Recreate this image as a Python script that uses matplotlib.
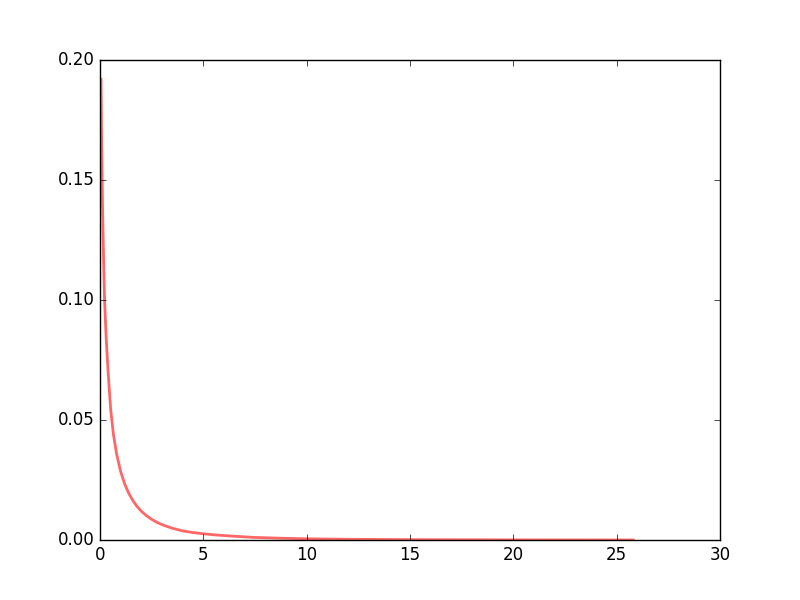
import matplotlib
matplotlib.use("Agg")
import matplotlib.pyplot as plt

plt.style.use("classic")

# values
x = [0.05, 0.08, 0.12, 0.17, 0.22, 0.3, 0.4, 0.52, 0.65, 0.8, 1.0, 1.2,
     1.4, 1.6, 1.8, 2.0, 2.25, 2.5, 2.75, 3.0, 3.5, 4.0, 4.5, 5.0, 5.6,
     6.25, 7.4, 8.5, 10, 12, 15, 20, 25.8]
y = [0.192, 0.165, 0.14, 0.118, 0.10, 0.084, 0.069, 0.054, 0.044, 0.036,
     0.0285, 0.0232, 0.0193, 0.0163, 0.0139, 0.0120, 0.0101, 0.0086,
     0.0074, 0.0064, 0.0049, 0.0038, 0.0031, 0.0026, 0.0021, 0.0017,
     0.0011, 0.0008, 0.0005, 0.0003, 0.00015, 0.00005, 0.00001]

fig, ax = plt.subplots(figsize=(8, 6), dpi=100)
ax.plot(x, y, "r-", lw=2, alpha=0.6)
ax.set_xlim(0, 30)
ax.set_ylim(0, 0.2)

fig.savefig("out.png", facecolor="white")
